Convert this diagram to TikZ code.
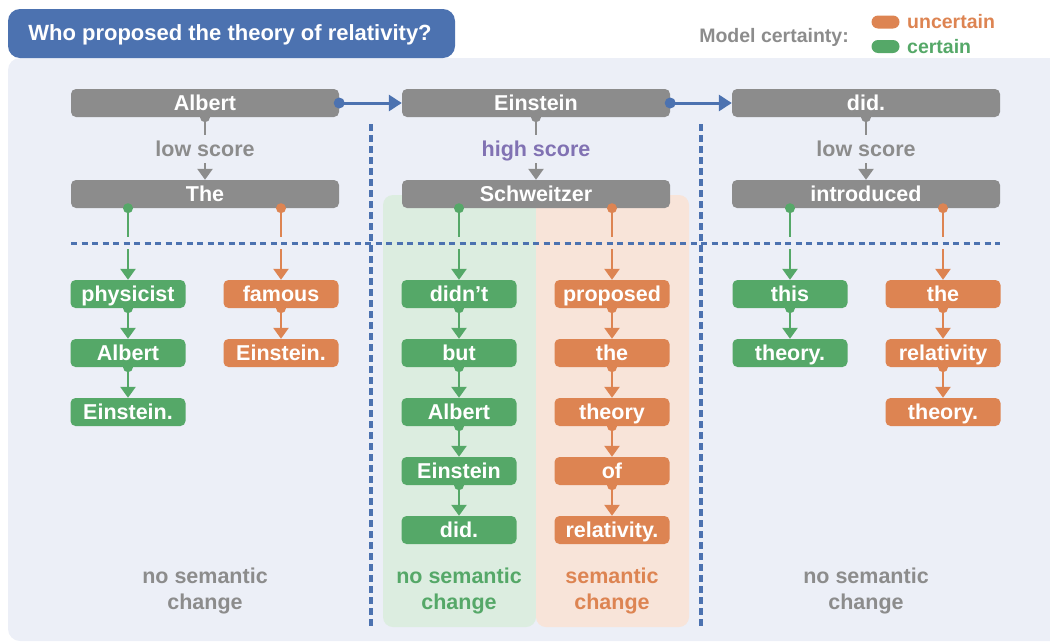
\documentclass[tikz,border=0pt]{standalone}
\usepackage{fontspec}
\setmainfont{Liberation Sans}
\usetikzlibrary{arrows.meta,calc}
\definecolor{ngray}{HTML}{8C8C8C}
\definecolor{tgray}{HTML}{8C8C8C}
\definecolor{cblue}{HTML}{4C72B0}
\definecolor{cgreen}{HTML}{55A868}
\definecolor{corange}{HTML}{DD8452}
\definecolor{cpurple}{HTML}{8172B3}
\definecolor{panelbg}{HTML}{ECEFF7}
\definecolor{lgreen}{HTML}{DCEDE0}
\definecolor{lorange}{HTML}{F8E4D9}
\newcommand{\nfont}{\fontsize{21.5}{25}\selectfont\bfseries}
\newcommand{\tfont}{\fontsize{22}{26}\selectfont\bfseries}
\newcommand{\lfont}{\fontsize{19.5}{23}\selectfont\bfseries}
\newcommand{\sfont}{\fontsize{21.5}{26}\selectfont\bfseries}
\newcommand{\chainlink}[3]{\draw[#1, arr] (#2.south) -- (#3.north); \fill[#1] (#2.south) circle (5pt);}
\newcommand{\splitlink}[3]{%
  \coordinate (tmp) at (#3 |- #2.south);
  \draw[#1, plainline] (tmp) -- (tmp |- gapT);
  \draw[#1, arr] (tmp |- gapB) -- (#3.north);
  \fill[#1] (tmp) circle (5pt);}
\begin{document}
\begin{tikzpicture}[x=1pt,y=-1pt,
  base/.style={rounded corners=5pt, inner sep=0pt, minimum height=28pt, text=white, font=\nfont, text height=15pt, text depth=0pt},
  bignode/.style={base, fill=ngray, minimum width=268pt},
  gnode/.style={base, fill=cgreen, minimum width=115pt},
  onode/.style={base, fill=corange, minimum width=115pt},
  scorelab/.style={font=\sfont, text height=15.4pt, text depth=0pt, inner xsep=2pt, inner ysep=6.5pt},
  bottomlab/.style={font=\sfont, align=center},
  arr/.style={line width=2.6pt, -{Triangle[width=15pt,length=11pt]}},
  plainline/.style={line width=2.6pt},
  bluearr/.style={cblue, line width=3pt, -{Triangle[width=16pt,length=13pt]}},
  hdash/.style={cblue, line width=3pt, dash pattern=on 6pt off 4.5pt},
  vdash/.style={cblue, line width=3.4pt, dash pattern=on 7pt off 4pt},
  pill/.style={rounded corners=6.5pt, minimum width=28pt, minimum height=13pt, inner sep=0pt}
]
\useasboundingbox (0,0) rectangle (1050,643);
% background panels
\fill[panelbg, rounded corners=12pt] (8,58) rectangle (1075,641);
\fill[cblue, rounded corners=12pt] (8,9) rectangle (455,58);
\fill[lgreen, rounded corners=10pt] (383,195) rectangle (536,627);
\fill[lorange, rounded corners=10pt] (536,195) rectangle (689,627);
% title and legend
\node[text=white, font=\tfont, text height=15.8pt, text depth=0pt, inner sep=0pt] (title) at (230,33) {Who proposed the theory of relativity?};
\node[anchor=east, text=tgray, font=\lfont, text height=14pt, text depth=0pt, inner sep=0pt] (mc) at (849,35) {Model certainty:};
\node[pill, fill=corange] (pillo) at (885.5,22) {};
\node[pill, fill=cgreen] (pillg) at (885.5,46.5) {};
\node[anchor=west, text=corange, font=\lfont, text height=14pt, text depth=0pt, inner sep=0pt] (unc) at (907,21) {uncertain};
\node[anchor=west, text=cgreen, font=\lfont, text height=14pt, text depth=0pt, inner sep=0pt] (cer) at (907,46) {certain};
% dashed separators
\coordinate (hL) at (71,243); \coordinate (hR) at (1000,243);
\coordinate (v1T) at (371,124); \coordinate (v1B) at (371,627);
\coordinate (v2T) at (701,124); \coordinate (v2B) at (701,627);
\draw[vdash] (v1T) -- (v1B);
\draw[vdash] (v2T) -- (v2B);
\draw[hdash] (hL) -- (hR);
\coordinate (gapT) at (0,237);
\coordinate (gapB) at (0,249);
% top row
\node[bignode] (albert) at (205,103) {Albert};
\node[bignode] (einstein) at (536,103) {Einstein};
\node[bignode] (did) at (866,103) {did.};
\node[scorelab, text=tgray] (ls1) at (205,149) {low score};
\node[scorelab, text=cpurple] (hs) at (536,149) {high score};
\node[scorelab, text=tgray] (ls2) at (866,149) {low score};
\node[bignode] (the) at (205,194) {The};
\node[bignode] (schw) at (536,194) {Schweitzer};
\node[bignode] (intro) at (866,194) {introduced};
% column 1
\node[gnode] (phys) at (128,294) {physicist};
\node[gnode] (alb1) at (128,353) {Albert};
\node[gnode] (ein1) at (128,412) {Einstein.};
\node[onode] (fam) at (281,294) {famous};
\node[onode] (ein2) at (281,353) {Einstein.};
% column 2
\node[gnode] (didnt) at (459,294) {didn’t};
\node[gnode] (but) at (459,353) {but};
\node[gnode] (alb2) at (459,412) {Albert};
\node[gnode] (ein3) at (459,471) {Einstein};
\node[gnode] (did2) at (459,530) {did.};
\node[onode] (prop) at (612,294) {proposed};
\node[onode] (the2) at (612,353) {the};
\node[onode] (theo) at (612,412) {theory};
\node[onode] (of) at (612,471) {of};
\node[onode] (rel) at (612,530) {relativity.};
% column 3
\node[gnode] (this) at (790,294) {this};
\node[gnode] (theo2) at (790,353) {theory.};
\node[onode] (the3) at (943,294) {the};
\node[onode] (rel2) at (943,353) {relativity};
\node[onode] (theo3) at (943,412) {theory.};
% bottom labels
\node[bottomlab, text=tgray] (b1) at (205,591) {no semantic\\change};
\node[bottomlab, text=cgreen] (b2) at (459,591) {no semantic\\change};
\node[bottomlab, text=corange] (b3) at (612,591) {semantic\\change};
\node[bottomlab, text=tgray] (b4) at (866,591) {no semantic\\change};
% blue connectors
\draw[bluearr] (albert.east) -- (einstein.west);
\fill[cblue] (albert.east) circle (5.5pt);
\draw[bluearr] (einstein.east) -- (did.west);
\fill[cblue] (einstein.east) circle (5.5pt);
% gray connectors
\draw[ngray, plainline] (albert.south) -- (ls1.north);
\draw[ngray, arr] (ls1.south) -- (the.north);
\fill[ngray] (albert.south) circle (5pt);
\draw[ngray, plainline] (einstein.south) -- (hs.north);
\draw[ngray, arr] (hs.south) -- (schw.north);
\fill[ngray] (einstein.south) circle (5pt);
\draw[ngray, plainline] (did.south) -- (ls2.north);
\draw[ngray, arr] (ls2.south) -- (intro.north);
\fill[ngray] (did.south) circle (5pt);
% split connectors
\splitlink{cgreen}{the}{phys}
\splitlink{corange}{the}{fam}
\splitlink{cgreen}{schw}{didnt}
\splitlink{corange}{schw}{prop}
\splitlink{cgreen}{intro}{this}
\splitlink{corange}{intro}{the3}
% chains
\chainlink{cgreen}{phys}{alb1}
\chainlink{cgreen}{alb1}{ein1}
\chainlink{corange}{fam}{ein2}
\chainlink{cgreen}{didnt}{but}
\chainlink{cgreen}{but}{alb2}
\chainlink{cgreen}{alb2}{ein3}
\chainlink{cgreen}{ein3}{did2}
\chainlink{corange}{prop}{the2}
\chainlink{corange}{the2}{theo}
\chainlink{corange}{theo}{of}
\chainlink{corange}{of}{rel}
\chainlink{cgreen}{this}{theo2}
\chainlink{corange}{the3}{rel2}
\chainlink{corange}{rel2}{theo3}
\end{tikzpicture}
\end{document}
